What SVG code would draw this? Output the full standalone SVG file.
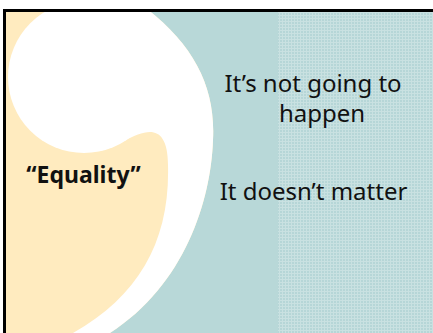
<svg xmlns="http://www.w3.org/2000/svg" width="433" height="333" viewBox="0 0 433 333">
  <defs>
    <pattern id="grid" width="3" height="3" patternUnits="userSpaceOnUse">
      <rect width="3" height="3" fill="#B6D6D7"/>
      <rect width="3" height="1" fill="#C9E1E1"/>
      <rect width="1" height="3" fill="#C9E1E1"/>
    </pattern>
    <clipPath id="content">
      <rect x="3" y="9" width="430" height="324"/>
    </clipPath>
  </defs>
  <style>
    .txt { font-family: "Noto Sans", "DejaVu Sans", sans-serif; font-size: 24px; fill: #111; text-anchor: middle; }
    .bold { font-weight: bold; font-size: 23px; }
  </style>
  <rect width="433" height="333" fill="#FFFFFF"/>
  <g id="background" clip-path="url(#content)">
    <rect x="0" y="0" width="433" height="333" fill="#B8D8D8"/>
    <rect x="278" y="0" width="155" height="333" fill="url(#grid)"/>
    <path d="M0,0 L135,0 C192,40 216,85 213,140 C211,200 185,285 110,333 L100,340 L0,340 Z" fill="#FFEBBF"/>
    <g id="comma" fill="#FFFFFF">
      <circle cx="84" cy="77" r="76"/>
      <path d="M84,0 L135,0 C192,40 216,85 213,140 C211,200 185,285 110,333 L100,340 L60,340 L73,333 C140,295 170,240 168,165 C168,140 160,132 150,132 C135,132 115,148 100,151 L84,77 Z"/>
    </g>
  </g>
  <path id="frame" d="M4.5,333 V10.5 H433" fill="none" stroke="#000" stroke-width="3"/>
  <g id="label-equality">
    <text class="txt bold" x="83.5" y="183">“Equality”</text>
  </g>
  <g id="label-not-going">
    <text class="txt" x="313" y="92">It’s not going to</text>
    <text class="txt" x="322" y="122">happen</text>
  </g>
  <g id="label-doesnt-matter">
    <text class="txt" x="313.5" y="200">It doesn’t matter</text>
  </g>
</svg>
